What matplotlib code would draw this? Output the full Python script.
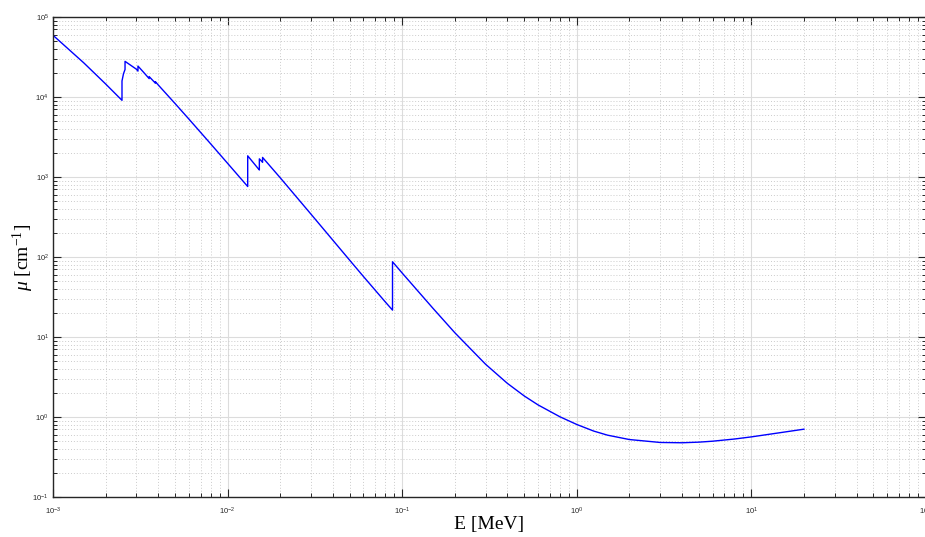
import numpy as np
import matplotlib.pyplot as plt
from matplotlib.ticker import LogLocator, NullFormatter

plt.rcParams['mathtext.fontset'] = 'custom'
plt.rcParams['mathtext.rm'] = 'Liberation Serif'
plt.rcParams['mathtext.it'] = 'Liberation Serif:italic'

# photon energy [MeV] and linear attenuation coefficient [1/cm]
E = [1.0e-3, 1.5e-3, 2.0e-3, 2.484e-3, 2.484e-3, 2.53429e-3, 2.5856e-3, 2.5856e-3,
     3.0e-3, 3.0664e-3, 3.0664e-3, 3.3013e-3, 3.5542e-3, 3.5542e-3, 3.70348e-3,
     3.859e-3, 3.859e-3, 4.0e-3, 5.0e-3, 6.0e-3, 8.0e-3, 1.0e-2,
     1.30352e-2, 1.30352e-2, 1.5e-2, 1.52e-2, 1.52e-2, 1.55269e-2, 1.58608e-2, 1.58608e-2,
     2.0e-2, 3.0e-2, 4.0e-2, 5.0e-2, 6.0e-2, 8.0e-2, 8.80045e-2, 8.80045e-2,
     0.1, 0.15, 0.2, 0.3, 0.4, 0.5, 0.6, 0.8, 1.0, 1.25, 1.5, 2.0, 3.0, 4.0,
     5.0, 6.0, 8.0, 10.0, 15.0, 20.0]
mu = [5.913e4, 2.674e4, 1.458e4, 9.087e3, 1.586e4, 1.959e4, 2.206e4, 2.790e4,
      2.230e4, 2.108e4, 2.436e4, 2.038e4, 1.698e4, 1.799e4, 1.637e4,
      1.488e4, 1.553e4, 1.420e4, 8.290e3, 5.303e3, 2.596e3, 1.482e3,
      760.6, 1840.0, 1267.0, 1224.0, 1685.0, 1607.0, 1525.0, 1757.0,
      980.2, 344.1, 163.0, 91.27, 56.99, 27.46, 21.68, 87.20,
      62.98, 22.86, 11.33, 4.575, 2.637, 1.832, 1.416, 1.007, 0.8061, 0.6669,
      0.5927, 0.5228, 0.4806, 0.4764, 0.4849, 0.4984, 0.5306, 0.5643, 0.6422, 0.7044]

fig = plt.figure(figsize=(9.25, 5.37), dpi=100)
ax = fig.add_axes([53/925, 40/537, 873/925, 480/537])

ax.loglog(E, mu, color='#0000ff', lw=1.0)
ax.set_xlim(1e-3, 1e2)
ax.set_ylim(1e-1, 1e5)

ax.xaxis.set_major_locator(LogLocator(base=10, numticks=10))
ax.yaxis.set_major_locator(LogLocator(base=10, numticks=10))
ax.xaxis.set_minor_locator(LogLocator(base=10, subs=np.arange(2, 10), numticks=20))
ax.yaxis.set_minor_locator(LogLocator(base=10, subs=np.arange(2, 10), numticks=20))
ax.xaxis.set_minor_formatter(NullFormatter())
ax.yaxis.set_minor_formatter(NullFormatter())

ax.grid(True, which='major', color='#dcdcdc', lw=0.8, ls='-')
ax.grid(True, which='minor', color='#cccccc', lw=0.7, ls=(0, (1, 2)))
ax.set_axisbelow(True)

ax.tick_params(which='both', direction='in', top=True, right=True,
               colors='#262626', labelsize=5.5, labelfontfamily='Liberation Sans')
ax.tick_params(which='major', length=6, width=0.8, pad=6)
ax.tick_params(which='minor', length=3, width=0.7)
ax.tick_params(axis='y', which='major', pad=3)
for s in ax.spines.values():
    s.set_color('#262626')
    s.set_linewidth(1.0)

ax.set_xlabel('E [MeV]', family='Liberation Serif', fontsize=14)
ax.set_ylabel(r'$\mu$ [cm$^{-1}$]', family='Liberation Serif', fontsize=14)
ax.xaxis.set_label_coords(0.5, -0.040)
ax.yaxis.set_label_coords(-0.0195, 0.5)

fig.savefig('out.png', dpi=100)
